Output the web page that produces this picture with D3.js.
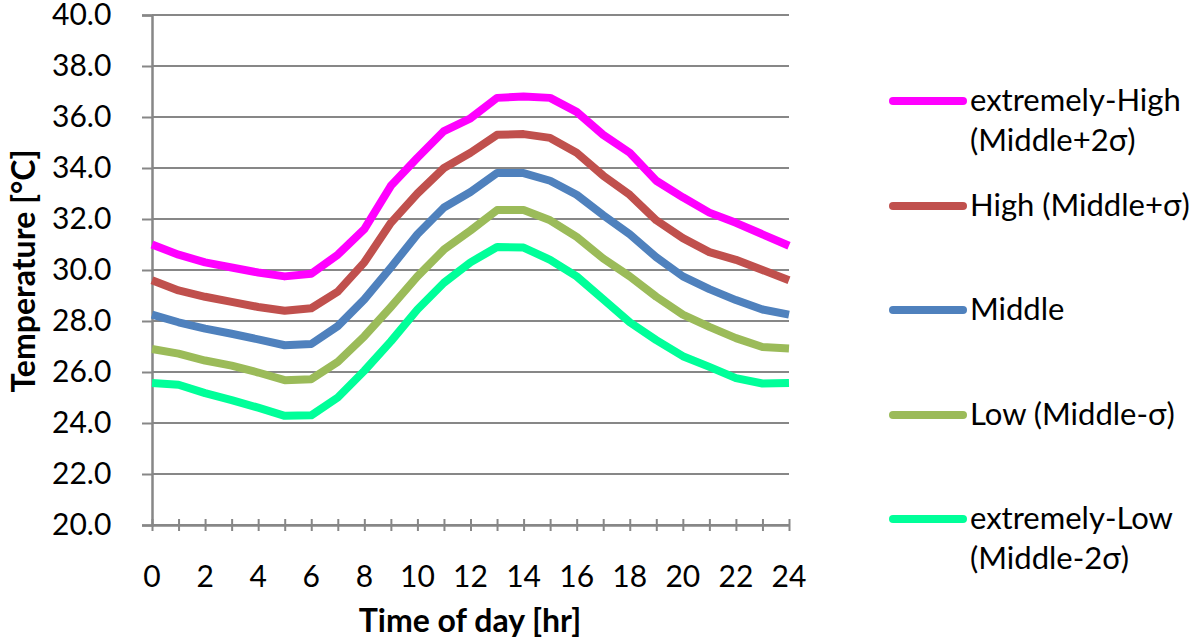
<!DOCTYPE html>
<html>
<head>
<meta charset="utf-8">
<script src="https://cdn.jsdelivr.net/npm/d3@7"></script>
<style>
  body { margin: 0; background: #fff; }
  text { font-family: Lato, "Open Sans", sans-serif; fill: #000; }
</style>
</head>
<body>
<svg id="chart" width="1200" height="642"></svg>
<script>
// hours of the day
var hours = d3.range(0, 25);

// temperature series
var extremelyHigh = [31.0, 30.6, 30.3, 30.1, 29.9, 29.75, 29.85, 30.6, 31.6, 33.3, 34.4, 35.45,
                     35.95, 36.75, 36.8, 36.75, 36.2, 35.3, 34.6, 33.5, 32.85, 32.25, 31.85, 31.4, 30.95];
var high = [29.6, 29.2, 28.95, 28.75, 28.55, 28.4, 28.5, 29.15, 30.3, 31.85, 33.0, 34.0,
            34.6, 35.3, 35.33, 35.18, 34.6, 33.7, 32.95, 31.95, 31.25, 30.7, 30.4, 30.0, 29.6];
var middle = [28.25, 27.95, 27.7, 27.5, 27.28, 27.05, 27.1, 27.8, 28.85, 30.1, 31.4, 32.45,
              33.06, 33.8, 33.8, 33.5, 32.95, 32.15, 31.4, 30.5, 29.75, 29.25, 28.82, 28.45, 28.25];
var low = [26.9, 26.72, 26.45, 26.25, 25.98, 25.68, 25.72, 26.4, 27.4, 28.55, 29.75, 30.8,
           31.55, 32.35, 32.35, 31.95, 31.3, 30.45, 29.75, 28.95, 28.25, 27.77, 27.33, 26.98, 26.92];
var extremelyLow = [25.57, 25.5, 25.17, 24.9, 24.6, 24.28, 24.3, 25.0, 26.05, 27.2, 28.45, 29.5,
                    30.3, 30.9, 30.88, 30.4, 29.75, 28.85, 27.95, 27.25, 26.62, 26.2, 25.76, 25.55, 25.57];

var seriesNames = [["extremely-High", "(Middle+2σ)"], ["High (Middle+σ)"], ["Middle"],
                   ["Low (Middle-σ)"], ["extremely-Low", "(Middle-2σ)"]];
var seriesColors = ["#ff00ff", "#c0504d", "#4f81bd", "#9bbb59", "#00ff99"];
var seriesValues = [extremelyHigh, high, middle, low, extremelyLow];

var yTicks = d3.range(20, 40.01, 2);
var xTicks = d3.range(0, 25, 2);

var svg = d3.select("#chart");
var grey = "#878787";

var x = d3.scaleLinear().domain([0, 24]).range([152, 789]);
var y = d3.scaleLinear().domain([20, 40]).range([525, 15]);

// horizontal gridlines
svg.append("g")
    .selectAll("line")
    .data(yTicks)
    .enter().append("line")
    .attr("x1", x(0))
    .attr("x2", x(24))
    .attr("y1", function(d) { return y(d); })
    .attr("y2", function(d) { return y(d); })
    .attr("stroke", grey)
    .attr("stroke-width", 2);

// y axis
var yAxis = svg.append("g")
    .attr("transform", "translate(" + x(0) + ",0)")
    .call(d3.axisLeft(y).tickValues(yTicks).tickSize(10).tickPadding(31)
            .tickFormat(d3.format(".1f")));
yAxis.select(".domain").attr("stroke", grey).attr("stroke-width", 2.5);
yAxis.selectAll(".tick line").attr("stroke", grey).attr("stroke-width", 2);
yAxis.selectAll("text")
    .attr("text-anchor", "start")
    .attr("x", 52 - x(0))
    .style("font-size", "30px")
    .attr("fill", "#000");

// x axis, ticks cross the axis line
var xAxis = svg.append("g")
    .attr("transform", "translate(0," + y(20) + ")")
    .call(d3.axisBottom(x).tickValues(d3.range(0, 25)).tickSize(0).tickFormat(""));
xAxis.select(".domain").attr("stroke", grey).attr("stroke-width", 2.5);
xAxis.selectAll(".tick line")
    .attr("y1", -6).attr("y2", 6)
    .attr("stroke", grey).attr("stroke-width", 2);

svg.append("g")
    .selectAll("text")
    .data(xTicks)
    .enter().append("text")
    .attr("x", function(d) { return x(d); })
    .attr("y", 587)
    .attr("text-anchor", "middle")
    .style("font-size", "30px")
    .text(function(d) { return d; });

// series lines
var line = d3.line()
    .x(function(d, i) { return x(hours[i]); })
    .y(function(d) { return y(d); });

svg.append("g")
    .selectAll("path")
    .data(seriesValues)
    .enter().append("path")
    .attr("d", line)
    .attr("fill", "none")
    .attr("stroke", function(d, i) { return seriesColors[i]; })
    .attr("stroke-width", 8)
    .attr("stroke-linejoin", "round");

// axis titles
svg.append("text")
    .attr("x", 470)
    .attr("y", 632)
    .attr("text-anchor", "middle")
    .style("font-size", "32px")
    .style("font-weight", "bold")
    .text("Time of day [hr]");

svg.append("text")
    .attr("transform", "translate(35,271) rotate(-90)")
    .attr("text-anchor", "middle")
    .style("font-size", "32px")
    .style("font-weight", "bold")
    .text("Temperature [°C]");

// legend
var legendY = [101, 206, 310, 415, 519];
var legend = svg.append("g")
    .selectAll("g")
    .data(seriesNames)
    .enter().append("g")
    .attr("transform", function(d, i) { return "translate(893," + legendY[i] + ")"; });

legend.append("line")
    .attr("x1", 0).attr("x2", 70)
    .attr("stroke", function(d, i) { return seriesColors[i]; })
    .attr("stroke-width", 8)
    .attr("stroke-linecap", "round");

legend.append("text")
    .attr("x", 77)
    .attr("y", 10)
    .style("font-size", "31px")
    .selectAll("tspan")
    .data(function(d) { return d; })
    .enter().append("tspan")
    .attr("x", 77)
    .attr("dy", function(d, i) { return i === 0 ? 0 : 40; })
    .text(function(d) { return d; });
</script>
</body>
</html>
